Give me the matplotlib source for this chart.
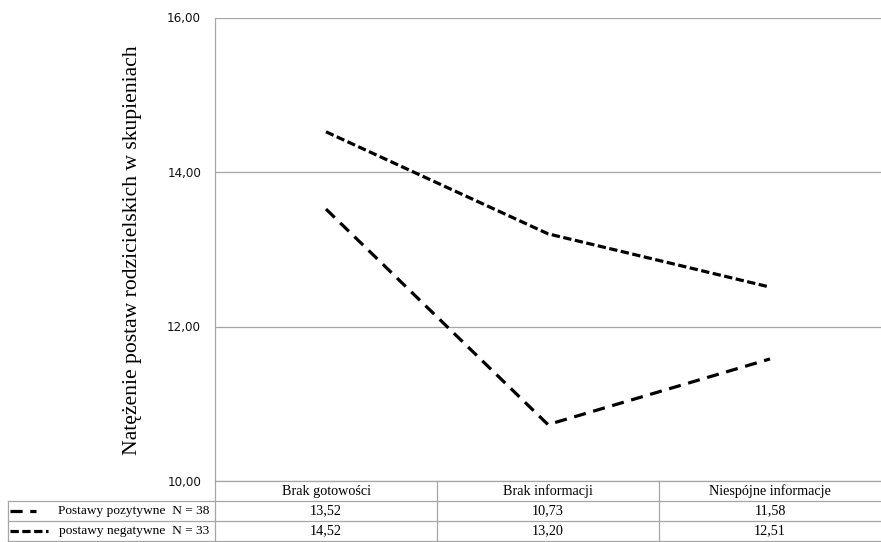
import matplotlib
matplotlib.use("Agg")
import matplotlib.pyplot as plt
from matplotlib.lines import Line2D
from matplotlib.transforms import blended_transform_factory

categories = ["Brak gotowości", "Brak informacji", "Niespójne informacje"]
pozytywne = [13.52, 10.73, 11.58]
negatywne = [14.52, 13.20, 12.51]
series_labels = ["Postawy pozytywne  N = 38", "postawy negatywne  N = 33"]
yticks = [10, 12, 14, 16]
ylabel = "Natężenie postaw rodzicielskich w skupieniach"

W, H = 881, 542
GRID = "#a6a6a6"
SERIF = "Liberation Serif"
TFS = 10.2


def fmt(v):
    return f"{v:.2f}".replace(".", ",")


fig = plt.figure(figsize=(W / 100, H / 100), dpi=100)

# plot area in pixels: left 215, top 17.5, right 881, bottom 481
ax_l, ax_t, ax_r, ax_b = 215, 17.5, 881, 481
ax = fig.add_axes([ax_l / W, (H - ax_b) / H, (ax_r - ax_l) / W, (ax_b - ax_t) / H])

x = range(len(categories))
dash_poz = (3.8, 2.4)
dash_neg = (2.6, 1.1)
ax.plot(x, pozytywne, color="black", lw=2.3, dashes=dash_poz)
ax.plot(x, negatywne, color="black", lw=2.3, dashes=dash_neg)

ax.set_xlim(-0.5, len(categories) - 0.5)
ax.set_ylim(10, 16)
ax.set_yticks(yticks)
ax.set_yticklabels([fmt(v) for v in yticks], fontsize=8.6, color="#111111")
ax.set_xticks([])
ax.tick_params(axis="y", length=0, pad=10)
ax.yaxis.grid(True, color=GRID, lw=0.9)
ax.set_axisbelow(True)
for s in ["top", "right", "bottom"]:
    ax.spines[s].set_visible(False)
ax.spines["left"].set_color(GRID)
ax.spines["left"].set_linewidth(0.9)

fig.text(133 / W, 1 - 250 / H, ylabel, rotation=90, ha="center", va="center",
         family=SERIF, fontsize=15.6)


# data table under the plot
def px_x(p):
    return (p - ax_l) / (ax_r - ax_l)


def px_y(p):
    return (ax_b - p) / (ax_b - ax_t)


tA = ax.transAxes
tB = blended_transform_factory(ax.transData, ax.transAxes)
rows = [481, 501, 521, 541]
tbl_left = 8


def hline(p, x0):
    ax.add_line(Line2D([px_x(x0), 1], [px_y(p)] * 2, transform=tA, color=GRID,
                       lw=0.9, clip_on=False))


hline(rows[0], ax_l)
hline(rows[1], tbl_left)
hline(rows[2], tbl_left)
hline(rows[3], tbl_left)
ax.add_line(Line2D([px_x(tbl_left)] * 2, [px_y(rows[1]), px_y(H)], transform=tA,
                   color=GRID, lw=0.9, clip_on=False))
ax.add_line(Line2D([0, 0], [px_y(rows[0]), px_y(H)], transform=tA,
                   color=GRID, lw=0.9, clip_on=False))
for b in range(1, len(categories)):
    ax.add_line(Line2D([b - 0.5] * 2, [px_y(rows[0]), px_y(H)], transform=tB,
                       color=GRID, lw=0.9, clip_on=False))

for i, cat in enumerate(categories):
    ax.text(i, px_y((rows[0] + rows[1]) / 2), cat, transform=tB, ha="center",
            va="center", family=SERIF, fontsize=TFS)
    ax.text(i, px_y((rows[1] + rows[2]) / 2), fmt(pozytywne[i]), transform=tB,
            ha="center", va="center", family=SERIF, fontsize=TFS)
    ax.text(i, px_y((rows[2] + rows[3]) / 2), fmt(negatywne[i]), transform=tB,
            ha="center", va="center", family=SERIF, fontsize=TFS)

keys = [(dash_poz, 36), (dash_neg, 48)]
for r, (lab, (dsh, kend)) in enumerate(zip(series_labels, keys)):
    yc = px_y((rows[r + 1] + rows[r + 2]) / 2)
    ax.add_line(Line2D([px_x(10), px_x(kend)], [yc, yc], transform=tA, color="black",
                       lw=2.3, dashes=dsh, clip_on=False))
    ax.text(px_x(209), yc, lab, transform=tA, ha="right", va="center",
            family=SERIF, fontsize=9.6)

fig.savefig("out.png", dpi=100)
